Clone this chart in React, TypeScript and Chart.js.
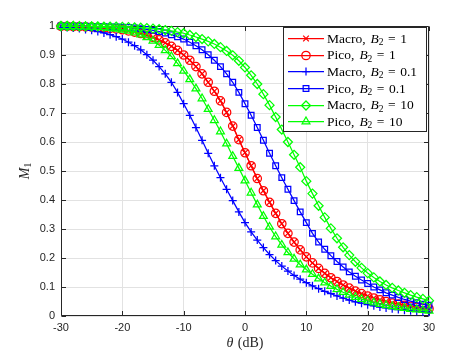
import React, { useEffect, useRef } from 'react';
import { Chart, registerables } from 'chart.js';

Chart.register(...registerables);

// ---------- data ----------
const theta = [
  -30, -29, -28, -27, -26, -25, -24, -23, -22, -21,
  -20, -19, -18, -17, -16, -15, -14, -13, -12, -11,
  -10, -9, -8, -7, -6, -5, -4, -3, -2, -1,
  0, 1, 2, 3, 4, 5, 6, 7, 8, 9,
  10, 11, 12, 13, 14, 15, 16, 17, 18, 19,
  20, 21, 22, 23, 24, 25, 26, 27, 28, 29, 30,
];

// Macro, B2 = 1 (coincides with Pico, B2 = 1 in the figure)
const macroB1 = [
  0.999, 0.999, 0.998, 0.998, 0.997, 0.996, 0.995, 0.994, 0.992, 0.990,
  0.987, 0.983, 0.979, 0.974, 0.968, 0.961, 0.952, 0.942, 0.930, 0.916,
  0.900, 0.882, 0.860, 0.835, 0.806, 0.775, 0.742, 0.702, 0.655, 0.608,
  0.563, 0.518, 0.474, 0.432, 0.392, 0.354, 0.318, 0.285, 0.255, 0.228,
  0.204, 0.183, 0.164, 0.147, 0.132, 0.119, 0.107, 0.096, 0.086, 0.077,
  0.069, 0.062, 0.056, 0.050, 0.045, 0.041, 0.037, 0.033, 0.030, 0.027, 0.025,
];

// Pico, B2 = 1
const picoB1 = [
  0.999, 0.999, 0.998, 0.998, 0.997, 0.996, 0.995, 0.994, 0.992, 0.990,
  0.987, 0.983, 0.979, 0.974, 0.968, 0.961, 0.952, 0.942, 0.930, 0.916,
  0.900, 0.882, 0.860, 0.835, 0.806, 0.775, 0.742, 0.702, 0.655, 0.608,
  0.563, 0.518, 0.474, 0.432, 0.392, 0.354, 0.318, 0.285, 0.255, 0.228,
  0.204, 0.183, 0.164, 0.147, 0.132, 0.119, 0.107, 0.096, 0.086, 0.077,
  0.069, 0.062, 0.056, 0.050, 0.045, 0.041, 0.037, 0.033, 0.030, 0.027, 0.025,
];

// Macro, B2 = 0.1
const macroB01 = [
  0.996, 0.995, 0.993, 0.991, 0.988, 0.985, 0.981, 0.976, 0.970, 0.963,
  0.955, 0.944, 0.932, 0.918, 0.901, 0.882, 0.860, 0.835, 0.806, 0.771,
  0.732, 0.692, 0.650, 0.606, 0.561, 0.518, 0.477, 0.437, 0.398, 0.359,
  0.322, 0.290, 0.262, 0.236, 0.212, 0.191, 0.172, 0.155, 0.140, 0.127,
  0.115, 0.104, 0.094, 0.085, 0.077, 0.069, 0.062, 0.055, 0.049, 0.044,
  0.039, 0.035, 0.031, 0.028, 0.025, 0.022, 0.020, 0.018, 0.016, 0.014, 0.013,
];

// Pico, B2 = 0.1
const picoB01 = [
  1.000, 0.999, 0.999, 0.999, 0.999, 0.998, 0.998, 0.998, 0.997, 0.997,
  0.996, 0.995, 0.993, 0.991, 0.988, 0.985, 0.981, 0.976, 0.970, 0.963,
  0.955, 0.944, 0.932, 0.918, 0.901, 0.882, 0.860, 0.835, 0.806, 0.771,
  0.732, 0.692, 0.650, 0.606, 0.561, 0.518, 0.477, 0.437, 0.398, 0.359,
  0.322, 0.285, 0.255, 0.230, 0.208, 0.188, 0.169, 0.152, 0.137, 0.124,
  0.112, 0.100, 0.090, 0.080, 0.072, 0.064, 0.057, 0.051, 0.046, 0.041, 0.037,
];

// Macro, B2 = 10
const macroB10 = [
  1.000, 1.000, 1.000, 0.999, 0.999, 0.999, 0.999, 0.998, 0.998, 0.998,
  0.997, 0.996, 0.995, 0.994, 0.993, 0.991, 0.989, 0.986, 0.983, 0.979,
  0.975, 0.969, 0.962, 0.955, 0.947, 0.938, 0.927, 0.914, 0.899, 0.880,
  0.857, 0.830, 0.800, 0.765, 0.727, 0.686, 0.643, 0.600, 0.556, 0.513,
  0.465, 0.422, 0.380, 0.340, 0.302, 0.268, 0.237, 0.210, 0.187, 0.166,
  0.148, 0.133, 0.119, 0.107, 0.097, 0.088, 0.080, 0.072, 0.065, 0.059, 0.053,
];

// Pico, B2 = 10
const picoB10 = [
  0.999, 0.999, 0.999, 0.999, 0.998, 0.997, 0.996, 0.995, 0.993, 0.990,
  0.987, 0.983, 0.977, 0.970, 0.961, 0.949, 0.934, 0.916, 0.895, 0.871,
  0.845, 0.816, 0.784, 0.750, 0.713, 0.675, 0.636, 0.594, 0.551, 0.510,
  0.467, 0.425, 0.384, 0.344, 0.307, 0.274, 0.245, 0.219, 0.197, 0.177,
  0.160, 0.144, 0.129, 0.115, 0.103, 0.092, 0.082, 0.073, 0.065, 0.058,
  0.052, 0.046, 0.041, 0.037, 0.033, 0.030, 0.027, 0.024, 0.022, 0.020, 0.018,
];

const seriesCells = ['Macro', 'Pico', 'Macro', 'Pico', 'Macro', 'Pico'];
const seriesB2 = ['1', '1', '0.1', '0.1', '10', '10'];
const seriesValues = [macroB1, picoB1, macroB01, picoB01, macroB10, picoB10];

const xTicks = [-30, -20, -10, 0, 10, 20, 30];
const xTickLabels = ['-30', '-20', '-10', '0', '10', '20', '30'];
const yTicks = [0, 0.1, 0.2, 0.3, 0.4, 0.5, 0.6, 0.7, 0.8, 0.9, 1];
const yTickLabels = ['0', '0.1', '0.2', '0.3', '0.4', '0.5', '0.6', '0.7', '0.8', '0.9', '1'];

const xTitleSymbol = 'θ';
const xTitleUnit = '(dB)';
const yTitleSymbol = 'M';
const yTitleSub = '1';
const legendSymbol = 'B';
const legendSub = '2';

// ---------- styles ----------
const COLORS = ['#ff0000', '#ff0000', '#0000ff', '#0000ff', '#00ff00', '#00ff00'];
const MARKERS = ['crossRot', 'circle', 'cross', 'rect', 'rectRot', 'triangle'];
const RADII = [4, 4.2, 4, 4, 4.5, 4.5];
const LW = 1.25;
const AXIS = '#262626';
const GRID = '#e2e2e2';
const SERIF = '"Liberation Serif", "Times New Roman", serif';
const SANS = '"Liberation Sans", Arial, Helvetica, sans-serif';

function drawMarker(ctx: CanvasRenderingContext2D, style: string, x: number, y: number, r: number) {
  ctx.beginPath();
  if (style === 'circle') {
    ctx.arc(x, y, r, 0, Math.PI * 2);
  } else if (style === 'cross') {
    ctx.moveTo(x - r, y); ctx.lineTo(x + r, y);
    ctx.moveTo(x, y - r); ctx.lineTo(x, y + r);
  } else if (style === 'crossRot') {
    const d = r * Math.SQRT1_2;
    ctx.moveTo(x - d, y - d); ctx.lineTo(x + d, y + d);
    ctx.moveTo(x - d, y + d); ctx.lineTo(x + d, y - d);
  } else if (style === 'rect') {
    const s = r * Math.SQRT1_2;
    ctx.rect(x - s, y - s, 2 * s, 2 * s);
  } else if (style === 'rectRot') {
    ctx.moveTo(x, y - r); ctx.lineTo(x + r, y); ctx.lineTo(x, y + r); ctx.lineTo(x - r, y); ctx.closePath();
  } else if (style === 'triangle') {
    ctx.moveTo(x, y - r);
    ctx.lineTo(x + Math.sin((2 * Math.PI) / 3) * r, y - Math.cos((2 * Math.PI) / 3) * r);
    ctx.lineTo(x + Math.sin((4 * Math.PI) / 3) * r, y - Math.cos((4 * Math.PI) / 3) * r);
    ctx.closePath();
  }
  ctx.stroke();
}

const framePlugin = {
  id: 'matlabFrame',
  beforeDatasetsDraw(chart: any) {
    const { ctx, chartArea: a, scales } = chart;
    const L = Math.round(a.left) + 0.5;
    const R = Math.round(a.right) - 0.5;
    const T = Math.round(a.top) + 0.5;
    const B = Math.round(a.bottom) - 0.5;
    ctx.save();
    ctx.strokeStyle = AXIS;
    ctx.lineWidth = 1;
    ctx.beginPath();
    ctx.rect(L, T, R - L, B - T);
    ctx.stroke();
    const tl = 4.5;
    ctx.beginPath();
    xTicks.forEach((v) => {
      const px = Math.round(scales.x.getPixelForValue(v)) + 0.5;
      ctx.moveTo(px, B); ctx.lineTo(px, B - tl);
      ctx.moveTo(px, T); ctx.lineTo(px, T + tl);
    });
    yTicks.forEach((v) => {
      const py = Math.round(scales.y.getPixelForValue(v)) + 0.5;
      ctx.moveTo(L, py); ctx.lineTo(L + tl, py);
      ctx.moveTo(R, py); ctx.lineTo(R - tl, py);
    });
    ctx.stroke();
    ctx.restore();
  },
  afterDraw(chart: any) {
    const { ctx, chartArea: a } = chart;
    ctx.save();
    ctx.fillStyle = AXIS;
    ctx.textBaseline = 'alphabetic';
    ctx.textAlign = 'left';

    // x title: θ (dB)
    const fs = 14;
    ctx.font = `italic ${fs}px ${SERIF}`;
    const w1 = ctx.measureText(xTitleSymbol).width;
    ctx.font = `${fs}px ${SERIF}`;
    const w2 = ctx.measureText(xTitleUnit).width;
    const gap = 4.5;
    const cx = (a.left + a.right) / 2;
    const x0 = cx - (w1 + gap + w2) / 2;
    ctx.font = `italic ${fs}px ${SERIF}`;
    ctx.fillText(xTitleSymbol, x0, 346.5);
    ctx.font = `${fs}px ${SERIF}`;
    ctx.fillText(xTitleUnit, x0 + w1 + gap, 346.5);

    // y title: M_1
    ctx.save();
    ctx.translate(28.5, (a.top + a.bottom) / 2);
    ctx.rotate(-Math.PI / 2);
    ctx.font = `italic ${fs}px ${SERIF}`;
    const wm = ctx.measureText(yTitleSymbol).width;
    ctx.font = `9.5px ${SERIF}`;
    const ws = ctx.measureText(yTitleSub).width;
    const start = -(wm + ws) / 2;
    ctx.font = `italic ${fs}px ${SERIF}`;
    ctx.fillText(yTitleSymbol, start, 0);
    ctx.font = `9.5px ${SERIF}`;
    ctx.fillText(yTitleSub, start + wm, 2.5);
    ctx.restore();

    // legend
    const bx = 283.5, by = 27.5, bw = 143, bh = 104;
    ctx.fillStyle = '#ffffff';
    ctx.fillRect(bx, by, bw, bh);
    ctx.strokeStyle = AXIS;
    ctx.lineWidth = 1;
    ctx.strokeRect(bx, by, bw, bh);
    for (let i = 0; i < seriesCells.length; i++) {
      const y = 38 + i * 16.67;
      const ly = Math.round(y) + 0.5;
      ctx.strokeStyle = COLORS[i];
      ctx.lineWidth = LW;
      ctx.beginPath();
      ctx.moveTo(288, ly);
      ctx.lineTo(324, ly);
      ctx.stroke();
      drawMarker(ctx, MARKERS[i], 306, ly, RADII[i]);

      ctx.fillStyle = '#000000';
      let tx = 327;
      const base = y + 4.5;
      const lf = 13.5;
      ctx.font = `${lf}px ${SERIF}`;
      const pre = seriesCells[i] + ',';
      ctx.fillText(pre, tx, base);
      tx += ctx.measureText(pre).width + 5;
      ctx.font = `italic ${lf}px ${SERIF}`;
      ctx.fillText(legendSymbol, tx, base);
      tx += ctx.measureText(legendSymbol).width;
      ctx.font = `9.5px ${SERIF}`;
      ctx.fillText(legendSub, tx, base + 2.5);
      tx += ctx.measureText(legendSub).width + 4.5;
      ctx.font = `${lf}px ${SERIF}`;
      ctx.fillText('=', tx, base);
      tx += ctx.measureText('=').width + 4.5;
      ctx.fillText(seriesB2[i], tx, base);
    }
    ctx.restore();
  },
};

export default function App() {
  const ref = useRef<HTMLCanvasElement | null>(null);

  useEffect(() => {
    if (!ref.current) return;
    const datasets = seriesValues.map((vals, i) => ({
      label: `${seriesCells[i]}, B2 = ${seriesB2[i]}`,
      data: theta.map((t, k) => ({ x: t, y: vals[k] })),
      borderColor: COLORS[i],
      backgroundColor: COLORS[i],
      borderWidth: LW,
      pointStyle: MARKERS[i],
      pointRadius: RADII[i],
      pointBorderWidth: LW,
      pointBorderColor: COLORS[i],
      pointBackgroundColor: 'rgba(0,0,0,0)',
      tension: 0,
      clip: false as any,
      order: seriesValues.length - i,
    }));

    const tickFont = { family: SANS, size: 11 };

    const chart = new Chart(ref.current, {
      type: 'line',
      data: { datasets },
      plugins: [framePlugin],
      options: {
        responsive: false,
        animation: false,
        devicePixelRatio: 1,
        layout: { padding: { left: 14, right: 44, top: 26, bottom: 0 } },
        plugins: { legend: { display: false }, tooltip: { enabled: false } },
        events: [],
        scales: {
          x: {
            type: 'linear',
            min: -30,
            max: 30,
            afterBuildTicks: (s: any) => { s.ticks = xTicks.map((v) => ({ value: v })); },
            afterFit: (s: any) => { s.height = 39; },
            ticks: {
              callback: (v: any) => xTickLabels[xTicks.indexOf(Number(v))],
              font: tickFont,
              color: AXIS,
              padding: 5,
              maxRotation: 0,
              autoSkip: false,
            },
            grid: { color: GRID, drawTicks: false, lineWidth: 1 },
            border: { display: false },
          },
          y: {
            type: 'linear',
            min: 0,
            max: 1,
            afterBuildTicks: (s: any) => { s.ticks = yTicks.map((v) => ({ value: v })); },
            afterFit: (s: any) => { s.width = 47; },
            ticks: {
              callback: (v: any) => yTickLabels[yTicks.findIndex((t) => Math.abs(t - Number(v)) < 1e-6)],
              font: tickFont,
              color: AXIS,
              padding: 6,
              autoSkip: false,
            },
            grid: { color: GRID, drawTicks: false, lineWidth: 1 },
            border: { display: false },
          },
        },
      } as any,
    });
    return () => chart.destroy();
  }, []);

  return (
    <div style={{ position: 'fixed', left: 0, top: 0, width: 473, height: 355, background: '#ffffff' }}>
      <canvas ref={ref} width={473} height={355} style={{ display: 'block', width: 473, height: 355 }} />
    </div>
  );
}
